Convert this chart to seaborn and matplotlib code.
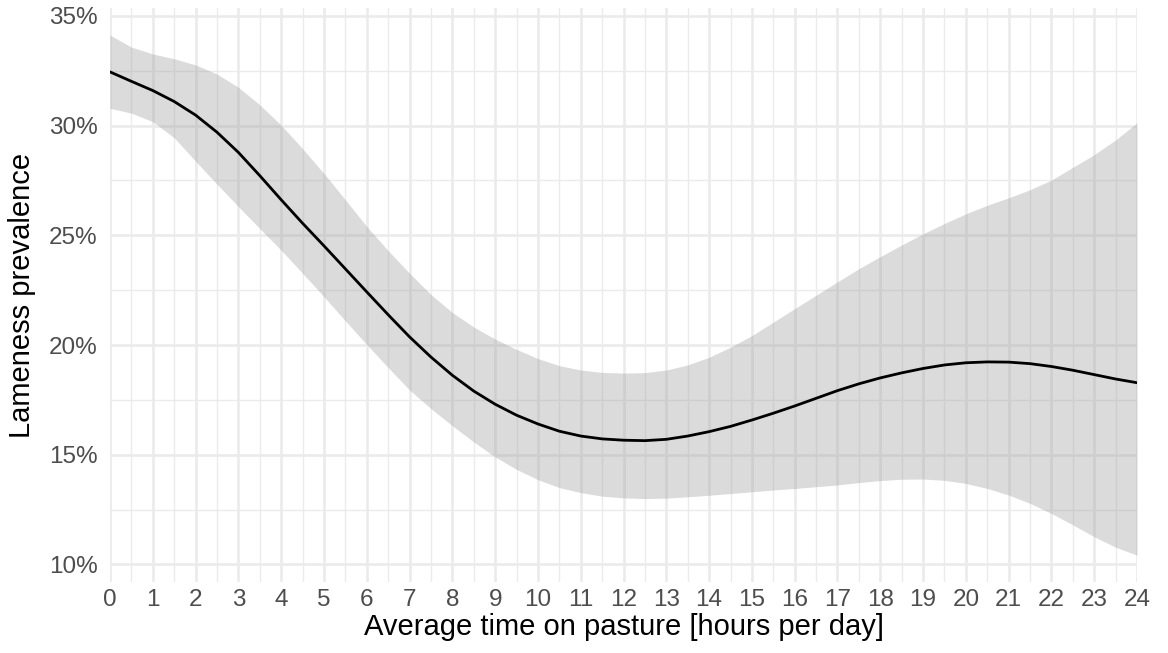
import numpy as np
import pandas as pd
import matplotlib
matplotlib.use("Agg")
import matplotlib.pyplot as plt
from matplotlib.ticker import MultipleLocator, FuncFormatter
import seaborn as sns

# Average time on pasture [hours per day], read every half hour
hours = [0, 0.5, 1, 1.5, 2, 2.5, 3, 3.5, 4, 4.5, 5, 5.5, 6, 6.5, 7, 7.5, 8, 8.5,
         9, 9.5, 10, 10.5, 11, 11.5, 12, 12.5, 13, 13.5, 14, 14.5, 15, 15.5, 16,
         16.5, 17, 17.5, 18, 18.5, 19, 19.5, 20, 20.5, 21, 21.5, 22, 22.5, 23,
         23.5, 24]
# Fitted lameness prevalence (%)
prevalence = [32.45, 32.02, 31.60, 31.10, 30.48, 29.70, 28.78, 27.72, 26.62, 25.55,
              24.52, 23.47, 22.42, 21.38, 20.37, 19.45, 18.62, 17.90, 17.30, 16.80,
              16.40, 16.07, 15.85, 15.72, 15.66, 15.64, 15.70, 15.85, 16.05, 16.29,
              16.58, 16.89, 17.22, 17.57, 17.92, 18.23, 18.50, 18.73, 18.93, 19.09,
              19.19, 19.23, 19.22, 19.15, 19.02, 18.85, 18.65, 18.45, 18.28]
# Confidence band upper / lower (%)
ci_upper = [34.13, 33.58, 33.27, 33.05, 32.77, 32.35, 31.75, 30.95, 30.02, 28.95,
            27.82, 26.62, 25.40, 24.30, 23.27, 22.30, 21.48, 20.82, 20.27, 19.80,
            19.38, 19.06, 18.86, 18.75, 18.72, 18.74, 18.86, 19.09, 19.44, 19.90,
            20.43, 21.04, 21.66, 22.27, 22.88, 23.48, 24.03, 24.56, 25.07, 25.54,
            25.98, 26.37, 26.71, 27.08, 27.52, 28.10, 28.68, 29.35, 30.13]
ci_lower = [30.79, 30.57, 30.18, 29.45, 28.38, 27.33, 26.31, 25.31, 24.32, 23.27,
            22.20, 21.10, 20.02, 18.97, 17.95, 17.10, 16.32, 15.58, 14.90, 14.33,
            13.86, 13.50, 13.27, 13.11, 13.03, 13.00, 13.02, 13.08, 13.15, 13.23,
            13.31, 13.39, 13.46, 13.54, 13.62, 13.73, 13.82, 13.88, 13.89, 13.83,
            13.69, 13.46, 13.16, 12.78, 12.32, 11.80, 11.26, 10.78, 10.42]
y_ticks = [10, 15, 20, 25, 30, 35]

df = pd.DataFrame({"hours": hours, "prev": prevalence, "lo": ci_lower, "hi": ci_upper})

sns.set_theme(style="white")
plt.rcParams["font.family"] = ["Liberation Sans", "DejaVu Sans"]

fig = plt.figure(figsize=(11.68, 6.53), dpi=100)
ax = fig.add_axes([0.0942, 0.1092, 0.8793, 0.8781])

grid_col = "#EBEBEB"
ax.set_xlim(0, 24)
ax.set_ylim(9.21, 35.35)
ax.xaxis.set_major_locator(MultipleLocator(1))
ax.xaxis.set_minor_locator(MultipleLocator(0.5))
ax.set_yticks(y_ticks)
ax.yaxis.set_minor_locator(MultipleLocator(2.5))
ax.grid(which="major", color=grid_col, linewidth=1.9)
ax.grid(which="minor", color=grid_col, linewidth=1.0)
ax.set_axisbelow(True)

ax.fill_between(df["hours"], df["lo"], df["hi"], color="#999999", alpha=0.35,
                linewidth=0, zorder=2)
line_plot = sns.lineplot(data=df, x="hours", y="prev", color="black", linewidth=2.0,
                         ax=ax, zorder=3)
for ln in ax.lines:
    ln.set_solid_joinstyle("round")

ax.yaxis.set_major_formatter(FuncFormatter(lambda v, p: f"{v:.0f}%"))
ax.tick_params(axis="both", which="both", length=0, labelsize=17.5, labelcolor="#4D4D4D")
ax.tick_params(axis="x", pad=5)
ax.tick_params(axis="y", pad=9)
for s in ax.spines.values():
    s.set_visible(False)

ax.set_xlabel("Average time on pasture [hours per day]", fontsize=21, color="black", labelpad=2)
ax.set_ylabel("Lameness prevalence", fontsize=21, color="black", labelpad=9)

fig.savefig("out.png", dpi=100, facecolor="white")
